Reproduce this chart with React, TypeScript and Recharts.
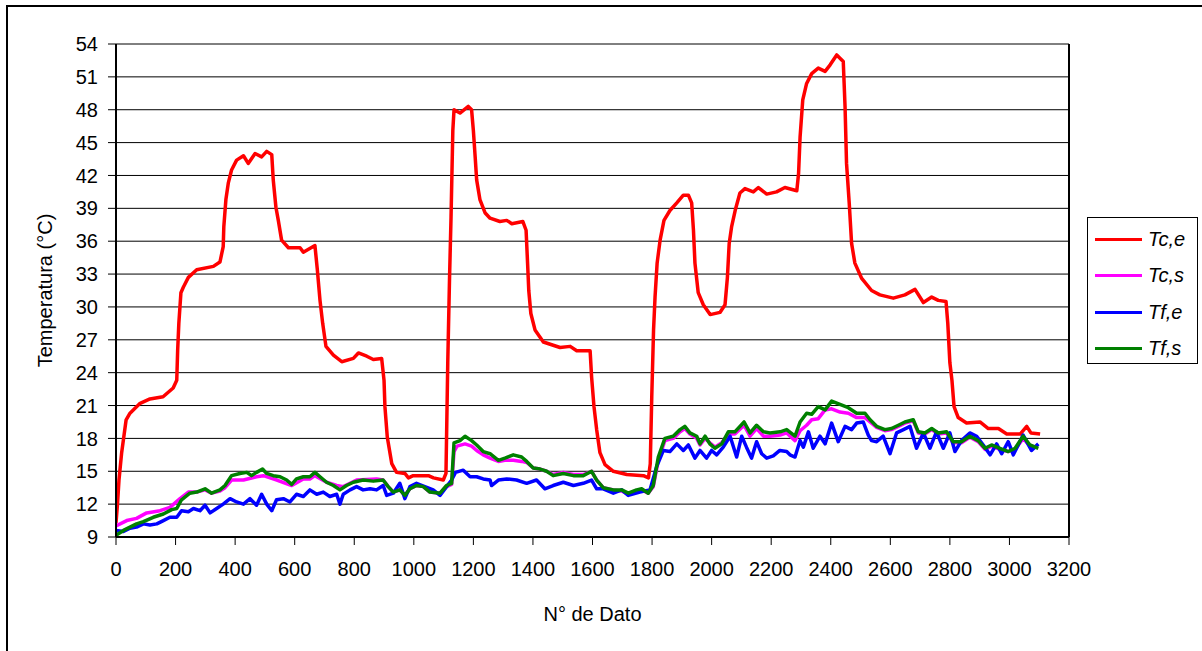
import React from 'react';
import {
    LineChart,
    Line,
    XAxis,
    YAxis,
    CartesianGrid,
    ReferenceLine,
} from 'recharts';

// [N° de dato, temperatura °C]
const TC_E: [number, number][] = [
    [0, 10.3], [5, 12], [10, 14.2], [19, 16.7], [25, 17.9], [34, 19.7], [47, 20.3], [81, 21.2], [114, 21.6], [158, 21.8],
    [192, 22.6], [204, 23.3], [207, 26], [211, 28.5], [218, 31.3], [226, 31.8], [243, 32.7], [271, 33.4], [327, 33.7], [349, 34.1],
    [360, 35.5], [362, 37.3], [369, 39.8], [377, 41.3], [388, 42.5], [405, 43.4], [428, 43.8], [444, 43.1], [467, 44.0], [489, 43.7],
    [506, 44.2], [523, 43.9], [528, 41.6], [537, 39.1], [545, 37.9], [556, 36.1], [579, 35.4], [618, 35.4], [629, 35.0], [668, 35.6],
    [676, 33.4], [685, 30.6], [694, 28.5], [705, 26.4], [730, 25.6], [758, 25.0], [797, 25.3], [814, 25.8], [842, 25.5], [864, 25.2],
    [892, 25.3], [900, 23.3], [903, 20.9], [911, 18.1], [926, 15.7], [942, 14.9], [970, 14.8], [982, 14.4], [998, 14.6], [1049, 14.6],
    [1066, 14.4], [1099, 14.2], [1108, 14.8], [1114, 24.9], [1120, 32.7], [1125, 38.2], [1131, 46.1], [1135, 48.0], [1155, 47.7], [1183, 48.3],
    [1194, 48.0], [1200, 46.1], [1206, 43.7], [1211, 41.6], [1222, 39.8], [1239, 38.6], [1256, 38.1], [1289, 37.8], [1312, 37.9], [1329, 37.6],
    [1366, 37.8], [1377, 37.0], [1382, 34.0], [1386, 31.5], [1393, 29.4], [1407, 27.9], [1435, 26.8], [1468, 26.5], [1491, 26.3], [1525, 26.4],
    [1547, 26.0], [1592, 26.0], [1597, 23.6], [1605, 20.9], [1614, 18.8], [1625, 16.7], [1642, 15.6], [1670, 15.0], [1715, 14.7], [1771, 14.6],
    [1788, 14.4], [1794, 15.7], [1799, 21.8], [1805, 27.9], [1810, 30.9], [1817, 34.0], [1827, 36.1], [1840, 37.9], [1860, 38.8], [1883, 39.5],
    [1905, 40.2], [1922, 40.2], [1933, 39.5], [1939, 37.0], [1944, 34.0], [1955, 31.3], [1972, 30.2], [1995, 29.3], [2028, 29.5], [2045, 30.2],
    [2053, 32.7], [2059, 35.8], [2067, 37.3], [2079, 38.8], [2095, 40.4], [2112, 40.8], [2140, 40.5], [2157, 40.9], [2185, 40.3], [2218, 40.5],
    [2246, 40.9], [2286, 40.6], [2292, 42.2], [2297, 45.5], [2306, 48.9], [2319, 50.4], [2336, 51.3], [2358, 51.8], [2381, 51.5], [2398, 52.1],
    [2420, 53.0], [2442, 52.4], [2448, 48.3], [2453, 43.1], [2462, 39.5], [2470, 35.8], [2481, 34.0], [2504, 32.6], [2537, 31.5], [2565, 31.1],
    [2610, 30.8], [2649, 31.1], [2683, 31.6], [2711, 30.4], [2739, 30.9], [2761, 30.6], [2787, 30.5], [2793, 28.5], [2800, 24.9], [2807, 23.3],
    [2814, 20.9], [2828, 19.9], [2856, 19.4], [2901, 19.5], [2929, 18.9], [2963, 18.9], [2991, 18.4], [3036, 18.4], [3058, 19.1], [3072, 18.5],
    [3103, 18.4],
];

const TC_S: [number, number][] = [
    [0, 10.0], [36, 10.5], [69, 10.7], [103, 11.2], [148, 11.4], [181, 11.7], [215, 12.5], [243, 13.1], [271, 13.1], [299, 13.3],
    [321, 13.0], [349, 13.2], [366, 13.5], [388, 14.2], [428, 14.2], [472, 14.5], [495, 14.6], [540, 14.2], [590, 13.7], [629, 14.3],
    [651, 14.3], [668, 14.6], [707, 14.0], [741, 13.7], [763, 13.6], [808, 14.2], [875, 14.3], [897, 14.2], [914, 13.6], [931, 13.1],
    [953, 13.3], [970, 12.8], [987, 13.4], [1009, 13.7], [1032, 13.6], [1054, 13.1], [1088, 13.0], [1110, 13.6], [1127, 13.8], [1135, 16.8],
    [1145, 17.3], [1172, 17.5], [1194, 17.3], [1211, 16.9], [1233, 16.5], [1256, 16.2], [1284, 15.9], [1306, 16.0], [1334, 16.0], [1362, 15.9],
    [1379, 15.8], [1401, 15.3], [1424, 15.2], [1446, 15.0], [1468, 14.7], [1502, 14.9], [1536, 14.7], [1569, 14.7], [1597, 15.0], [1614, 14.2],
    [1636, 13.5], [1670, 13.3], [1698, 13.2], [1720, 12.9], [1748, 13.2], [1765, 13.3], [1787, 13.0], [1804, 13.6], [1821, 16.0], [1843, 17.8],
    [1871, 18.0], [1894, 18.6], [1910, 18.9], [1927, 18.4], [1950, 18.0], [1961, 17.4], [1978, 18.0], [1994, 17.6], [2011, 17.2], [2034, 17.6],
    [2056, 18.4], [2078, 18.4], [2109, 19.2], [2129, 18.2], [2151, 18.9], [2174, 18.2], [2196, 18.2], [2230, 18.3], [2252, 18.5], [2280, 17.8],
    [2297, 18.7], [2319, 19.2], [2336, 19.7], [2358, 19.8], [2381, 20.6], [2403, 20.7], [2431, 20.4], [2459, 20.3], [2487, 19.9], [2515, 19.9],
    [2532, 19.5], [2554, 19.0], [2582, 18.7], [2604, 18.8], [2627, 19.1], [2649, 19.4], [2677, 19.6], [2694, 18.5], [2716, 18.4], [2739, 18.8],
    [2761, 18.4], [2789, 18.5], [2811, 17.6], [2839, 17.6], [2867, 18.1], [2895, 17.7], [2918, 17.0], [2940, 17.3], [2968, 17.0], [2996, 16.8],
    [3019, 17.0], [3046, 18.0], [3069, 17.3], [3090, 17.2],
];

const TF_E: [number, number][] = [
    [0, 9.6], [25, 9.5], [47, 9.8], [69, 9.9], [92, 10.2], [114, 10.1], [137, 10.2], [159, 10.5], [181, 10.8], [204, 10.8],
    [220, 11.4], [243, 11.3], [260, 11.6], [282, 11.4], [299, 11.9], [316, 11.2], [338, 11.6], [360, 12.0], [383, 12.5], [405, 12.2],
    [428, 12.0], [450, 12.5], [472, 11.9], [489, 12.9], [506, 12.0], [523, 11.4], [539, 12.4], [562, 12.5], [584, 12.2], [606, 12.9],
    [629, 12.7], [651, 13.3], [674, 12.9], [696, 13.1], [718, 12.7], [741, 12.9], [752, 12.0], [763, 12.9], [786, 13.3], [808, 13.6],
    [830, 13.3], [853, 13.4], [875, 13.3], [897, 13.7], [909, 12.8], [931, 13.0], [953, 13.9], [970, 12.5], [987, 13.6], [1009, 13.9],
    [1037, 13.6], [1065, 13.3], [1088, 12.8], [1110, 13.6], [1127, 14.2], [1140, 14.9], [1166, 15.1], [1189, 14.5], [1211, 14.5], [1233, 14.3],
    [1256, 14.2], [1261, 13.7], [1284, 14.2], [1312, 14.3], [1345, 14.2], [1379, 13.9], [1412, 14.2], [1440, 13.4], [1468, 13.7], [1502, 14.0],
    [1536, 13.7], [1569, 13.9], [1597, 14.2], [1614, 13.4], [1636, 13.4], [1670, 13.0], [1698, 13.3], [1720, 12.8], [1759, 13.1], [1793, 13.3],
    [1815, 15.4], [1838, 16.9], [1860, 16.8], [1883, 17.5], [1905, 16.9], [1922, 17.4], [1944, 16.2], [1961, 16.9], [1983, 16.2], [2000, 16.9],
    [2017, 16.5], [2039, 17.2], [2062, 18.2], [2084, 16.3], [2101, 18.2], [2117, 17.2], [2134, 16.2], [2151, 17.7], [2168, 16.6], [2185, 16.2],
    [2207, 16.4], [2229, 16.9], [2252, 16.8], [2263, 16.5], [2280, 16.3], [2297, 17.8], [2308, 17.2], [2325, 18.6], [2341, 17.1], [2364, 18.2],
    [2381, 17.5], [2403, 19.4], [2425, 17.7], [2448, 19.1], [2470, 18.8], [2487, 19.4], [2509, 19.5], [2526, 18.3], [2537, 17.8], [2554, 17.7],
    [2576, 18.2], [2599, 16.6], [2621, 18.5], [2644, 18.8], [2666, 19.1], [2688, 17.1], [2711, 18.5], [2733, 17.1], [2755, 18.6], [2778, 17.1],
    [2800, 18.5], [2817, 16.8], [2839, 17.8], [2867, 18.5], [2890, 18.2], [2912, 17.4], [2935, 16.5], [2957, 17.5], [2974, 16.6], [2996, 17.7],
    [3013, 16.5], [3046, 18.3], [3074, 16.9], [3097, 17.5],
];

const TF_S: [number, number][] = [
    [0, 9.15], [25, 9.6], [47, 9.9], [69, 10.2], [92, 10.4], [125, 10.8], [159, 11.1], [187, 11.5], [204, 11.6], [220, 12.4],
    [248, 13.0], [271, 13.1], [299, 13.4], [321, 13.0], [349, 13.3], [366, 13.7], [388, 14.6], [416, 14.8], [439, 14.9], [455, 14.6],
    [472, 14.9], [492, 15.2], [506, 14.8], [528, 14.6], [551, 14.5], [573, 14.2], [590, 13.8], [606, 14.3], [629, 14.5], [651, 14.5],
    [668, 14.9], [685, 14.5], [707, 14.0], [730, 13.7], [752, 13.3], [774, 13.7], [797, 14.0], [830, 14.2], [864, 14.1], [897, 14.2],
    [914, 13.6], [931, 13.1], [953, 13.3], [970, 12.8], [987, 13.4], [1009, 13.7], [1032, 13.6], [1054, 13.1], [1088, 13.0], [1110, 13.7],
    [1127, 13.9], [1135, 17.6], [1155, 17.8], [1172, 18.2], [1194, 17.8], [1211, 17.4], [1233, 16.8], [1256, 16.6], [1284, 16.0], [1306, 16.2],
    [1334, 16.5], [1362, 16.3], [1379, 15.9], [1401, 15.3], [1424, 15.2], [1446, 15.0], [1468, 14.6], [1502, 14.8], [1536, 14.6], [1569, 14.6],
    [1597, 15.0], [1614, 14.2], [1636, 13.5], [1670, 13.3], [1698, 13.3], [1720, 13.0], [1748, 13.3], [1765, 13.4], [1787, 13.0], [1804, 13.7],
    [1821, 16.3], [1843, 18.0], [1871, 18.2], [1894, 18.8], [1910, 19.1], [1927, 18.5], [1950, 18.2], [1961, 17.5], [1978, 18.2], [1994, 17.5],
    [2011, 17.1], [2034, 17.5], [2056, 18.6], [2078, 18.6], [2109, 19.5], [2129, 18.5], [2151, 19.2], [2174, 18.6], [2196, 18.5], [2230, 18.6],
    [2252, 18.8], [2280, 18.2], [2297, 19.5], [2319, 20.3], [2336, 20.2], [2358, 20.9], [2381, 20.6], [2403, 21.4], [2431, 21.1], [2459, 20.8],
    [2487, 20.3], [2515, 20.3], [2532, 19.7], [2554, 19.1], [2582, 18.8], [2604, 18.9], [2627, 19.2], [2649, 19.5], [2677, 19.7], [2694, 18.6],
    [2716, 18.5], [2739, 18.9], [2761, 18.5], [2789, 18.6], [2811, 17.7], [2839, 17.7], [2867, 18.2], [2895, 17.8], [2918, 17.1], [2940, 17.4],
    [2968, 17.1], [2996, 16.8], [3019, 17.1], [3046, 18.2], [3069, 17.4], [3097, 17.1],
];

const X_TICKS = [0, 200, 400, 600, 800, 1000, 1200, 1400, 1600, 1800, 2000, 2200, 2400, 2600, 2800, 3000, 3200];
const Y_TICKS = [9, 12, 15, 18, 21, 24, 27, 30, 33, 36, 39, 42, 45, 48, 51, 54];

const SERIES = [
    { name: 'Tc,e', color: '#FF0000', points: TC_E },
    { name: 'Tc,s', color: '#FF00FF', points: TC_S },
    { name: 'Tf,e', color: '#0000FF', points: TF_E },
    { name: 'Tf,s', color: '#008000', points: TF_S },
];

const FONT = '"Liberation Sans", Arial, sans-serif';

// legend drawn as a plain box to the right of the plot, like the Excel original
const LegendBox = () => (
    <div
        style={{
            position: 'absolute',
            left: 1087,
            top: 217,
            width: 111,
            height: 147,
            border: '1px solid #000',
            background: '#fff',
            boxSizing: 'border-box',
            paddingTop: 3,
        }}
    >
        {SERIES.map(s => (
            <div key={s.name} style={{ display: 'flex', alignItems: 'center', height: 36.5 }}>
                <div style={{ marginLeft: 7, width: 47, height: 3, background: s.color }} />
                <span style={{ marginLeft: 6, fontFamily: FONT, fontStyle: 'italic', fontSize: 20, color: '#000' }}>
                    {s.name}
                </span>
            </div>
        ))}
    </div>
);

export default function App() {
    return (
        <div style={{ position: 'absolute', left: 0, top: 0, width: 1202, height: 651, overflow: 'hidden', background: '#fff' }}>
            {/* outer chart border */}
            <div
                style={{
                    position: 'absolute',
                    left: 6,
                    top: 5,
                    width: 1300,
                    height: 800,
                    border: '2px solid #000',
                }}
            />
            <div style={{ position: 'absolute', left: 0, top: 0 }}>
                <LineChart
                    width={1202}
                    height={651}
                    margin={{ top: 44, right: 133, left: 56, bottom: 84 }}
                    style={{ fontFamily: FONT }}
                >
                    <CartesianGrid horizontal vertical={false} stroke="#000" strokeWidth={1} />
                    <XAxis
                        type="number"
                        dataKey="n"
                        domain={[0, 3200]}
                        ticks={X_TICKS}
                        interval={0}
                        allowDataOverflow
                        height={30}
                        stroke="#000"
                        strokeWidth={2}
                        tickSize={8}
                        tickMargin={17}
                        tick={{ fill: '#000', fontSize: 20 }}
                        tickLine={{ stroke: '#000', strokeWidth: 1 }}
                        label={{ value: 'N° de Dato', position: 'insideBottom', offset: -54, fill: '#000', fontSize: 20 }}
                    />
                    <YAxis
                        type="number"
                        domain={[9, 54]}
                        ticks={Y_TICKS}
                        interval={0}
                        allowDataOverflow
                        width={60}
                        stroke="#000"
                        strokeWidth={2}
                        tickSize={8}
                        tickMargin={10}
                        tick={{ fill: '#000', fontSize: 20 }}
                        tickLine={{ stroke: '#000', strokeWidth: 1 }}
                        label={{
                            value: 'Temperatura (°C)',
                            angle: -90,
                            position: 'insideLeft',
                            offset: -11,
                            fill: '#000',
                            fontSize: 20,
                            style: { textAnchor: 'middle' },
                        }}
                    />
                    <ReferenceLine x={3200} stroke="#000" strokeWidth={2} />
                    {SERIES.map(s => (
                        <Line
                            key={s.name}
                            data={s.points.map(([n, t]) => ({ n, t }))}
                            dataKey="t"
                            name={s.name}
                            type="linear"
                            stroke={s.color}
                            strokeWidth={3.5}
                            strokeLinejoin="round"
                            dot={false}
                            activeDot={false}
                            isAnimationActive={false}
                        />
                    ))}
                </LineChart>
            </div>
            <LegendBox />
        </div>
    );
}
